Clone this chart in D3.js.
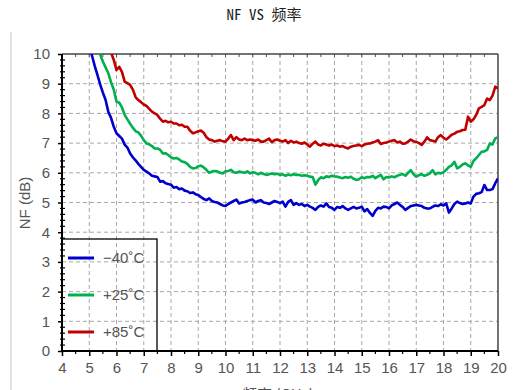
<!DOCTYPE html>
<html>
<head>
<meta charset="utf-8">
<script src="https://cdn.jsdelivr.net/npm/d3@7"></script>
<style>
  html, body { margin: 0; padding: 0; background: #fff; }
  svg { display: block; }
</style>
</head>
<body>
<svg id="chart" width="514" height="390"></svg>
<script>
// Noise figure vs frequency at three temperatures (GHz / dB), sampled every 0.1 GHz
const xTicks = [4, 5, 6, 7, 8, 9, 10, 11, 12, 13, 14, 15, 16, 17, 18, 19, 20];
const yTicks = [0, 1, 2, 3, 4, 5, 6, 7, 8, 9, 10];
const seriesNames = ["\u221240\u02daC", "+25\u02daC", "+85\u02daC"];
const seriesColors = ["#0000cc", "#00b04f", "#c00000"];
const seriesStart = [5.0, 5.3, 5.8];

const nfMinus40 = [
  10.3, 9.95, 9.6, 9.3, 8.98, 8.7, 8.45, 8.05, 7.85, 7.55,
  7.33, 7.24, 7.15, 6.95, 6.85, 6.65, 6.52, 6.42, 6.3, 6.2,
  6.1, 6.04, 5.98, 5.9, 5.88, 5.86, 5.7, 5.72, 5.65, 5.62,
  5.6, 5.5, 5.52, 5.45, 5.47, 5.4, 5.38, 5.32, 5.34, 5.28,
  5.25, 5.18, 5.12, 5.08, 5.14, 5.05, 5.02, 5.0, 4.95, 4.9,
  4.88, 4.95, 5.0, 5.05, 5.1, 4.97, 5.0, 5.02, 5.05, 5.08,
  5.1, 5.0, 5.05, 5.08, 5.0, 4.98, 4.95, 5.0, 5.05, 5.02,
  4.98, 5.03, 4.86, 5.02, 5.08, 4.92, 4.98, 4.92, 4.95, 4.88,
  4.92, 4.86, 4.82, 4.75, 4.85, 4.9, 4.86, 4.97, 4.85, 4.82,
  4.75, 4.85, 4.82, 4.88, 4.8, 4.75, 4.8, 4.85, 4.8, 4.82,
  4.86, 4.7, 4.78, 4.65, 4.55, 4.72, 4.82, 4.8, 4.86, 4.85,
  4.8, 4.9, 4.95, 5.0, 4.92, 4.85, 4.75, 4.82, 4.88, 4.9,
  4.92, 4.9, 4.88, 4.82, 4.8, 4.8, 4.85, 4.9, 4.88, 4.94,
  4.9, 4.97, 4.66, 4.8, 4.95, 5.03, 4.98, 4.95, 4.97, 5.0,
  4.97, 5.2, 5.29, 5.31, 5.35, 5.59, 5.42, 5.42, 5.45, 5.65,
  5.81
];

const nfPlus25 = [
  10.2, 9.98, 9.75, 9.55, 9.35, 9.05, 8.8, 8.4, 8.36, 8.2,
  7.95, 7.8, 7.65, 7.52, 7.4, 7.36, 7.25, 7.1, 6.99, 6.96,
  6.9, 6.82, 6.82, 6.78, 6.65, 6.66, 6.6, 6.52, 6.48, 6.5,
  6.45, 6.38, 6.36, 6.3, 6.2, 6.15, 6.16, 6.22, 6.24, 6.18,
  6.1, 6.0, 6.04, 6.06, 6.05, 6.0, 5.98, 6.05, 6.06, 6.1,
  6.02, 6.0, 6.04, 6.02, 6.0, 6.05, 5.98, 6.02, 6.0, 5.95,
  6.0, 5.96, 5.93, 5.95, 5.98, 5.95, 5.97, 5.93, 5.95, 5.9,
  5.94, 5.92, 5.95, 5.93, 5.93, 5.9, 5.92, 5.9, 5.87, 5.86,
  5.6, 5.75, 5.85, 5.82, 5.88, 5.86, 5.9, 5.88, 5.87, 5.84,
  5.82, 5.86, 5.83, 5.87, 5.8, 5.76, 5.78, 5.85, 5.82, 5.86,
  5.85, 5.9, 5.82, 5.88, 5.93, 5.78, 5.86, 5.84, 5.88, 5.85,
  5.9, 5.93, 5.96, 5.9, 6.0, 6.09, 5.95, 5.87, 5.92, 5.95,
  5.9, 5.93, 5.98, 6.09, 5.95, 6.0, 5.98, 6.02, 6.1, 6.2,
  6.25, 6.37, 6.15, 6.2, 6.28, 6.32, 6.25, 6.2, 6.4, 6.49,
  6.6, 6.71, 6.72, 6.77, 6.99, 6.95, 7.16, 7.2
];

const nfPlus85 = [
  10.05, 9.8, 9.46, 9.57, 9.4, 9.07, 9.02, 8.96, 8.8, 8.55,
  8.45, 8.38, 8.3, 8.25, 8.15, 8.06, 8.0, 7.95, 7.82, 7.72,
  7.75, 7.7, 7.72, 7.66, 7.66, 7.6, 7.62, 7.55, 7.55, 7.42,
  7.33, 7.36, 7.4, 7.42, 7.35, 7.2, 7.12, 7.1, 7.05, 7.08,
  7.1, 7.06, 7.05, 7.15, 7.27, 7.1, 7.2, 7.12, 7.1, 7.15,
  7.1, 7.12, 7.1, 7.08, 7.12, 7.05, 7.05, 7.1, 7.15, 7.03,
  7.1, 7.12, 7.08, 7.05, 7.1, 7.0, 7.08, 7.02, 7.05, 7.0,
  6.98, 7.02, 6.95, 6.88, 6.98, 7.05, 6.95, 6.92, 6.98, 6.95,
  6.92, 6.95, 6.9, 6.92, 6.88, 6.9, 6.85, 6.82, 6.88, 6.9,
  6.92, 6.94, 6.9, 6.95, 6.98, 6.99, 7.02, 7.05, 7.1, 6.97,
  7.0, 7.02, 7.05, 7.08, 7.1, 7.02, 7.05, 6.98, 6.99, 7.05,
  7.12, 7.06, 7.04, 7.0, 6.94, 7.05, 7.19, 7.1, 7.08, 7.05,
  7.2, 7.27, 7.18, 7.12, 7.2, 7.28, 7.32, 7.38, 7.4, 7.44,
  7.45, 7.89, 7.72, 7.8, 7.95, 8.17, 8.22, 8.28, 8.5, 8.45,
  8.6, 8.9, 8.84
];

const seriesValues = [nfMinus40, nfPlus25, nfPlus85];

const svg = d3.select("#chart");
const plotLeft = 62, plotRight = 498, plotTop = 54, plotBottom = 351;

const x = d3.scaleLinear().domain([4, 20]).range([plotLeft, plotRight]);
const y = d3.scaleLinear().domain([0, 10]).range([plotBottom, plotTop]);

// thin panel edge on the far left
svg.append("line")
  .attr("x1", 11).attr("x2", 11).attr("y1", 32).attr("y2", 390)
  .attr("stroke", "#e3e3e3").attr("stroke-width", 2);

// title
svg.append("text")
  .attr("x", 264).attr("y", 20)
  .attr("text-anchor", "middle")
  .attr("font-family", "'Noto Sans Mono CJK SC', 'Noto Sans CJK SC', monospace")
  .attr("font-size", 15)
  .attr("fill", "#222")
  .text("NF VS 频率");

// dashed grid
const grid = svg.append("g").attr("stroke", "#a8a8a8").attr("stroke-dasharray", "4,3").attr("stroke-width", 1);
xTicks.filter(d => d > 4 && d < 20).forEach(d => {
  grid.append("line").attr("x1", x(d)).attr("x2", x(d)).attr("y1", plotTop).attr("y2", plotBottom);
});
yTicks.filter(d => d > 0 && d < 10).forEach(d => {
  grid.append("line").attr("x1", plotLeft).attr("x2", plotRight).attr("y1", y(d)).attr("y2", y(d));
});

// axes
const xAxis = d3.axisBottom(x).tickValues(xTicks).tickSize(5).tickPadding(6).tickFormat(d3.format("d"));
const gx = svg.append("g").attr("transform", `translate(0,${plotBottom})`).call(xAxis);
const yAxis = d3.axisLeft(y).tickValues(yTicks).tickSize(4).tickPadding(8).tickFormat(d3.format("d"));
const gy = svg.append("g").attr("transform", `translate(${plotLeft},0)`).call(yAxis);
[gx, gy].forEach(g => {
  g.select(".domain").remove();
  g.selectAll(".tick line").attr("stroke", "#000").attr("stroke-width", 1.5);
  g.selectAll(".tick text")
    .attr("font-family", "'Liberation Sans', Arial, sans-serif")
    .attr("font-size", 15)
    .attr("fill", "#555");
});

// minor ticks
const minorX = d3.range(4.5, 20, 1);
svg.append("g").selectAll("line").data(minorX).join("line")
  .attr("x1", d => x(d)).attr("x2", d => x(d))
  .attr("y1", plotBottom).attr("y2", plotBottom + 3)
  .attr("stroke", "#000").attr("stroke-width", 1.2);
svg.append("g").selectAll("line").data(d3.range(0.5, 16, 0.5)).join("line")
  .attr("x1", d => x(4 + d)).attr("x2", d => x(4 + d))
  .attr("y1", plotTop).attr("y2", plotTop + 3)
  .attr("stroke", "#555").attr("stroke-width", 1);
const minorY = d3.range(0, 10.01, 0.2).filter(v => Math.abs(v - Math.round(v)) > 0.01);
svg.append("g").selectAll("line").data(minorY).join("line")
  .attr("x1", plotLeft - 2).attr("x2", plotLeft + 3)
  .attr("y1", d => y(d)).attr("y2", d => y(d))
  .attr("stroke", "#000").attr("stroke-width", 1.2);

// frame
svg.append("line").attr("x1", plotLeft).attr("x2", plotRight).attr("y1", plotTop).attr("y2", plotTop)
  .attr("stroke", "#444").attr("stroke-width", 1.5);
svg.append("line").attr("x1", plotRight).attr("x2", plotRight).attr("y1", plotTop).attr("y2", plotBottom)
  .attr("stroke", "#444").attr("stroke-width", 1.5);
svg.append("line").attr("x1", plotLeft).attr("x2", plotLeft).attr("y1", plotTop).attr("y2", plotBottom + 1)
  .attr("stroke", "#000").attr("stroke-width", 2);
svg.append("line").attr("x1", plotLeft - 1).attr("x2", plotRight).attr("y1", plotBottom).attr("y2", plotBottom)
  .attr("stroke", "#000").attr("stroke-width", 2);

// curves
svg.append("clipPath").attr("id", "plotClip")
  .append("rect").attr("x", plotLeft).attr("y", plotTop).attr("width", plotRight - plotLeft).attr("height", plotBottom - plotTop);

const line = d3.line().x(d => x(d[0])).y(d => y(d[1]));
const curves = svg.append("g").attr("clip-path", "url(#plotClip)");
seriesValues.forEach((vals, i) => {
  const pts = vals.map((v, k) => [seriesStart[i] + k * 0.1, v]);
  curves.append("path")
    .datum(pts)
    .attr("d", line)
    .attr("fill", "none")
    .attr("stroke", seriesColors[i])
    .attr("stroke-width", 2.6)
    .attr("stroke-linejoin", "round");
});

// axis titles
svg.append("text")
  .attr("transform", "translate(30,203) rotate(-90)")
  .attr("text-anchor", "middle")
  .attr("font-family", "'Liberation Sans', Arial, sans-serif")
  .attr("font-size", 15)
  .attr("fill", "#555")
  .text("NF (dB)");
svg.append("text")
  .attr("x", 278).attr("y", 400)
  .attr("text-anchor", "middle")
  .attr("font-family", "'Noto Sans CJK SC', sans-serif")
  .attr("font-size", 15)
  .attr("fill", "#555")
  .text("频率 (GHz)");

// legend (transparent box over the grid)
const legend = svg.append("g");
legend.append("rect")
  .attr("x", plotLeft).attr("y", 239).attr("width", 95).attr("height", plotBottom - 239)
  .attr("fill", "none").attr("stroke", "#000").attr("stroke-width", 1.3);
const legendY = [258, 295, 332];
seriesNames.forEach((name, i) => {
  legend.append("line")
    .attr("x1", 68).attr("x2", 94).attr("y1", legendY[i]).attr("y2", legendY[i])
    .attr("stroke", seriesColors[i]).attr("stroke-width", 3);
  legend.append("text")
    .attr("x", 103).attr("y", legendY[i] + 5)
    .attr("font-family", "'Liberation Sans', Arial, sans-serif")
    .attr("font-size", 15)
    .attr("fill", "#555")
    .text(name);
});
</script>
</body>
</html>
